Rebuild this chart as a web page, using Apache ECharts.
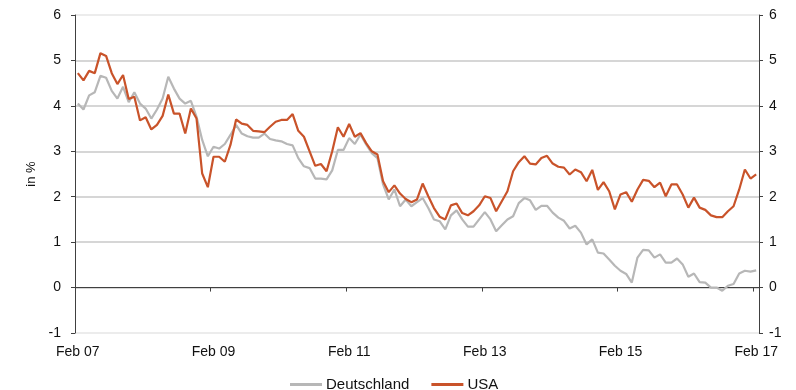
<!DOCTYPE html>
<html>
<head>
<meta charset="utf-8">
<script src="https://cdn.jsdelivr.net/npm/echarts@6/dist/echarts.min.js"></script>
<style>
  html, body { margin: 0; padding: 0; background: #fff; }
  #chart { width: 796px; height: 390px; }
</style>
</head>
<body>
<div id="chart"></div>
<script>
var chart = echarts.init(document.getElementById('chart'));

// monthly values, Feb 07 .. Feb 17
var monthNames = ['Jan', 'Feb', 'Mär', 'Apr', 'Mai', 'Jun', 'Jul', 'Aug', 'Sep', 'Okt', 'Nov', 'Dez'];
var yTicks = [-1, 0, 1, 2, 3, 4, 5, 6];

var dataDE = [
  4.05, 3.92, 4.23, 4.30, 4.66, 4.62, 4.33, 4.16, 4.42, 4.08, 4.30, 4.05, 3.94, 3.72, 3.92, 4.16, 4.64,
  4.38, 4.16, 4.05, 4.11, 3.76, 3.25, 2.89, 3.10, 3.06, 3.16, 3.36, 3.58, 3.39, 3.33, 3.30, 3.30, 3.39,
  3.27, 3.24, 3.22, 3.16, 3.13, 2.85, 2.67, 2.63, 2.40, 2.40, 2.38, 2.58, 3.03, 3.03, 3.29, 3.16, 3.37,
  3.15, 2.96, 2.85, 2.27, 1.94, 2.16, 1.79, 1.94, 1.79, 1.88, 1.97, 1.75, 1.50, 1.46, 1.28, 1.59, 1.70,
  1.50, 1.34, 1.34, 1.50, 1.66, 1.50, 1.24, 1.37, 1.50, 1.57, 1.86, 1.97, 1.92, 1.71, 1.80, 1.80,
  1.65, 1.54, 1.47, 1.30, 1.36, 1.21, 0.95, 1.06, 0.77, 0.75, 0.62, 0.48, 0.37, 0.30, 0.11, 0.66, 0.83,
  0.82, 0.66, 0.73, 0.55, 0.55, 0.64, 0.51, 0.24, 0.31, 0.12, 0.11, 0.00, 0.00, -0.07, 0.04, 0.08, 0.31, 0.37, 0.35, 0.38
];

var dataUSA = [
  4.72, 4.56, 4.77, 4.72, 5.16, 5.10, 4.72, 4.48, 4.68, 4.15, 4.20, 3.68, 3.75, 3.48, 3.58, 3.78, 4.25,
  3.83, 3.83, 3.39, 3.94, 3.72, 2.51, 2.21, 2.88, 2.88, 2.77, 3.14, 3.70, 3.61, 3.58, 3.45, 3.44, 3.42,
  3.54, 3.65, 3.69, 3.69, 3.82, 3.45, 3.32, 3.00, 2.68, 2.72, 2.56, 3.00, 3.53, 3.32, 3.60, 3.32, 3.40,
  3.18, 3.00, 2.93, 2.34, 2.10, 2.25, 2.07, 1.95, 1.88, 1.94, 2.29, 2.01, 1.75, 1.56, 1.50, 1.81, 1.85,
  1.64, 1.59, 1.68, 1.81, 2.01, 1.97, 1.68, 1.90, 2.12, 2.56, 2.76, 2.89, 2.73, 2.71, 2.85, 2.90,
  2.73, 2.66, 2.64, 2.49, 2.60, 2.54, 2.34, 2.59, 2.15, 2.32, 2.12, 1.72, 2.05, 2.10, 1.89, 2.16, 2.37,
  2.35, 2.21, 2.31, 2.01, 2.27, 2.27, 2.05, 1.76, 1.98, 1.76, 1.71, 1.59, 1.55, 1.55, 1.68, 1.79, 2.16, 2.60, 2.40, 2.49
];

var months = [];
for (var i = 0; i < dataUSA.length; i++) {
  var m = (1 + i) % 12;
  var y = 7 + Math.floor((1 + i) / 12);
  months.push(monthNames[m] + ' ' + (y < 10 ? '0' + y : y));
}

var font = 'Liberation Sans, Arial, sans-serif';
var axisDark = '#404040';

var valueAxis = {
  type: 'value',
  min: yTicks[0],
  max: yTicks[yTicks.length - 1],
  interval: 1,
  axisLine: { show: true, lineStyle: { color: axisDark, width: 1 } },
  axisTick: { show: true, length: 4, lineStyle: { color: axisDark } },
  axisLabel: { color: '#111', fontSize: 14, fontFamily: font }
};

var option = {
  backgroundColor: '#fff',
  animation: false,
  grid: { left: 75, right: 37, top: 15, bottom: 57 },
  legend: {
    left: 285,
    top: 372,
    itemGap: 22,
    itemWidth: 32,
    itemHeight: 3,
    icon: 'rect',
    textStyle: { color: '#111', fontSize: 15, fontFamily: font, padding: [0, 0, 0, -1] },
    data: ['Deutschland', 'USA']
  },
  xAxis: [
    {
      type: 'category',
      data: months,
      boundaryGap: true,
      position: 'bottom',
      axisLine: { show: false, onZero: false },
      axisTick: { show: false },
      axisLabel: { interval: 23, margin: 12, color: '#111', fontSize: 14, fontFamily: font },
      splitLine: { show: false }
    },
    {
      type: 'category',
      data: months,
      boundaryGap: true,
      position: 'bottom',
      axisLine: { show: true, onZero: true, lineStyle: { color: axisDark, width: 1 } },
      axisTick: { show: true, interval: 23, length: 4, lineStyle: { color: axisDark } },
      axisLabel: { show: false },
      splitLine: { show: false }
    }
  ],
  yAxis: [
    echarts.util.merge({
      position: 'left',
      name: 'in %',
      nameLocation: 'middle',
      nameGap: 37,
      nameTextStyle: { color: '#111', fontSize: 13, fontFamily: font },
      axisLabel: { margin: 14 },
      splitLine: {
        show: true,
        lineStyle: {
          color: ['#e6e6e6', '#c8c8c8', '#c8c8c8', '#c8c8c8', '#c8c8c8', '#c8c8c8', '#c8c8c8', '#e6e6e6'],
          width: 1.5
        }
      }
    }, valueAxis, true),
    echarts.util.merge({
      position: 'right',
      axisLabel: { margin: 10 },
      splitLine: { show: false }
    }, valueAxis, true)
  ],
  series: [
    {
      name: 'Deutschland',
      type: 'line',
      xAxisIndex: 0,
      yAxisIndex: 0,
      data: dataDE,
      showSymbol: false,
      color: '#b7b7b7',
      lineStyle: { color: '#b7b7b7', width: 2.2 }
    },
    {
      name: 'USA',
      type: 'line',
      xAxisIndex: 0,
      yAxisIndex: 0,
      data: dataUSA,
      showSymbol: false,
      color: '#c9532a',
      lineStyle: { color: '#c9532a', width: 2.2 }
    }
  ]
};

chart.setOption(option);
</script>
</body>
</html>
